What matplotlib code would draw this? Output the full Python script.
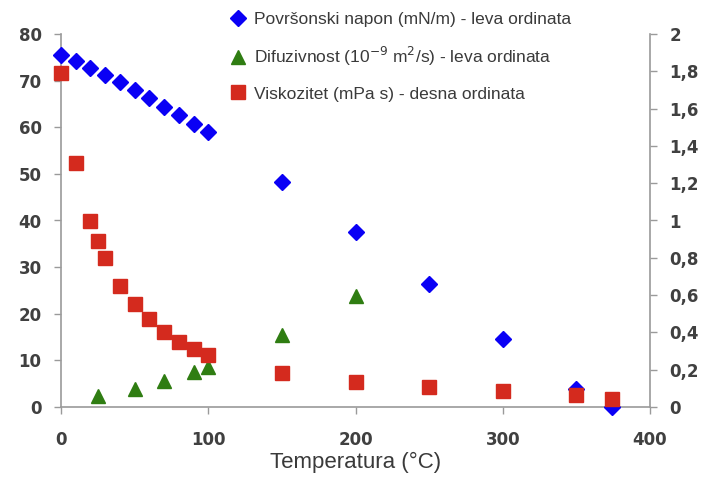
import matplotlib
matplotlib.use("Agg")
import matplotlib.pyplot as plt
from matplotlib.lines import Line2D
from matplotlib.ticker import FuncFormatter, MultipleLocator

# Data
t_surf = [0, 10, 20, 30, 40, 50, 60, 70, 80, 90, 100, 150, 200, 250, 300, 350, 374]
surf = [75.6, 74.2, 72.8, 71.2, 69.6, 67.9, 66.2, 64.4, 62.6, 60.8, 58.9, 48.3, 37.6, 26.4, 14.6, 3.8, 0.0]

t_diff = [25, 50, 70, 90, 100, 150, 200]
diff = [2.3, 3.8, 5.5, 7.4, 8.5, 15.5, 23.8]

t_visc = [0, 10, 20, 25, 30, 40, 50, 60, 70, 80, 90, 100, 150, 200, 250, 300, 350, 374]
visc = [1.79, 1.31, 1.00, 0.89, 0.80, 0.65, 0.55, 0.47, 0.40, 0.35, 0.31, 0.28,
        0.18, 0.135, 0.105, 0.086, 0.066, 0.045]

labels = ["Površonski napon (mN/m) - leva ordinata",
          "Difuzivnost (10$^{-9}$ m$^2$/s) - leva ordinata",
          "Viskozitet (mPa s) - desna ordinata"]

blue = "#0a00f5"
green = "#2f7d12"
red = "#d42a1e"
axcol = "#9a9a9a"
txtcol = "#3a3a3a"

plt.rcParams['font.family'] = ['Liberation Sans', 'DejaVu Sans']

fig = plt.figure(figsize=(7.04, 4.82), dpi=100)
ax = fig.add_axes([61/704, 1-407/482, (650-61)/704, (407-34)/482])
ax2 = ax.twinx()

ax.plot(t_surf, surf, linestyle='none', marker='D', color=blue, markersize=8, zorder=3, clip_on=False)
ax.plot(t_diff, diff, linestyle='none', marker='^', color=green, markersize=10, zorder=3, clip_on=False)
ax2.plot(t_visc, visc, linestyle='none', marker='s', color=red, markersize=10.5, zorder=3, clip_on=False)

ax.set_xlim(0, 400)
ax.set_ylim(0, 80)
ax2.set_ylim(0, 2)
ax.xaxis.set_major_locator(MultipleLocator(100))
ax.yaxis.set_major_locator(MultipleLocator(10))
ax2.yaxis.set_major_locator(MultipleLocator(0.2))

def comma(v, pos):
    s = f"{v:.1f}".rstrip('0').rstrip('.')
    return s.replace('.', ',')
ax2.yaxis.set_major_formatter(FuncFormatter(comma))

for a in (ax, ax2):
    a.spines['top'].set_visible(False)
    for sp in a.spines.values():
        sp.set_color(axcol)
        sp.set_linewidth(1.2)
    a.tick_params(colors=axcol, labelcolor="#404040", length=5, width=1, pad=9)
    for lab in a.get_xticklabels() + a.get_yticklabels():
        lab.set_fontfamily('DejaVu Sans')
        lab.set_fontweight('bold')
        lab.set_fontsize(12)
ax.tick_params(axis='x', pad=12)
ax2.spines['left'].set_visible(False)
ax2.spines['bottom'].set_visible(False)
ax.spines['right'].set_visible(False)

ax.set_xlabel("Temperatura (°C)", fontsize=16, color=txtcol, labelpad=2)

handles = [Line2D([], [], linestyle='none', marker='D', color=blue, markersize=8),
           Line2D([], [], linestyle='none', marker='^', color=green, markersize=10),
           Line2D([], [], linestyle='none', marker='s', color=red, markersize=10.5)]
fig.legend(handles, labels, loc='upper left', bbox_to_anchor=(221/704, 1-3/482),
           frameon=False, fontsize=12.5, labelspacing=1.05, handletextpad=0.4,
           handlelength=1.0, labelcolor=txtcol, borderaxespad=0.1)

fig.savefig("out.png", dpi=100)
